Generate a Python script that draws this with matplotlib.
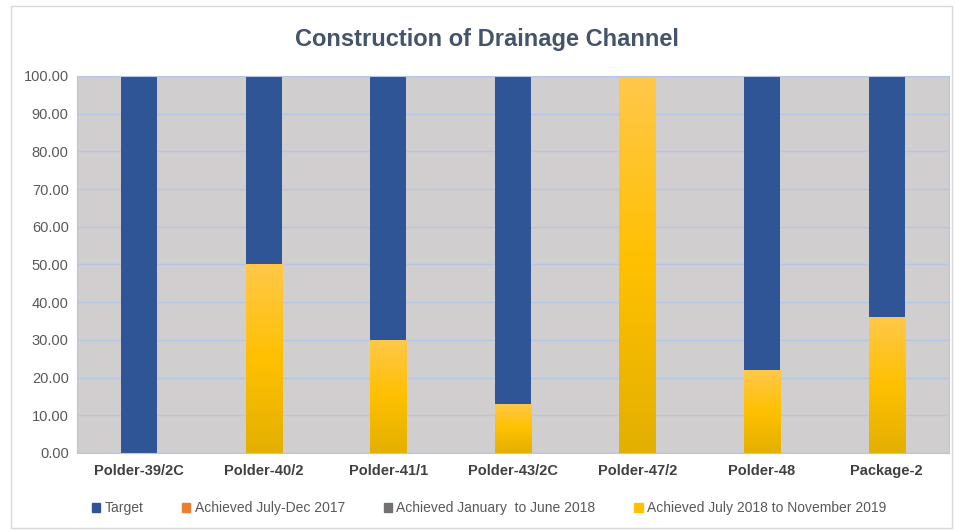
import numpy as np
import matplotlib.pyplot as plt
import matplotlib
from matplotlib.colors import LinearSegmentedColormap
from matplotlib.patches import Patch, Rectangle

matplotlib.rcParams['font.family'] = ['Liberation Sans Narrow', 'Liberation Sans', 'DejaVu Sans']

categories = ["Polder-39/2C", "Polder-40/2", "Polder-41/1", "Polder-43/2C",
              "Polder-47/2", "Polder-48", "Package-2"]
achieved_2017 = [0, 0, 0, 0, 0, 0, 0]
achieved_2018 = [0, 0, 0, 0, 0, 0, 0]
achieved_2019 = [0, 50, 30, 13, 100, 22, 36]
target = [100, 50, 70, 87, 0, 78, 64]
yticks = [0, 10, 20, 30, 40, 50, 60, 70, 80, 90, 100]

c_target = "#2F5597"
c_2017 = "#ED7D31"
c_2018 = "#767171"
c_2019 = "#FFC000"
yellow_grad = LinearSegmentedColormap.from_list(
    "yl", ["#E3B000", "#FFC000", "#FFC84A"])

fig = plt.figure(figsize=(9.55, 5.31), dpi=100)
fig.patches.append(Rectangle((0.011, 0.006), 0.986, 0.982, transform=fig.transFigure,
                             fill=False, edgecolor="#D9D9D9", linewidth=1))
ax = fig.add_axes([0.0806, 0.147, 0.913, 0.71])
ax.set_facecolor("#D0CECE")

x = np.arange(len(categories))
w = 0.29
b1 = np.array(achieved_2017)
b2 = b1 + np.array(achieved_2018)
b3 = b2 + np.array(achieved_2019)

ax.bar(x, achieved_2017, w, color=c_2017, zorder=2)
ax.bar(x, achieved_2018, w, bottom=b1, color=c_2018, zorder=2)
ybars = ax.bar(x, achieved_2019, w, bottom=b2, color="none", zorder=2)
ax.bar(x, target, w, bottom=b3, color=c_target, zorder=2)

# gradient fill for the yellow segments
grad = np.linspace(0, 1, 256).reshape(-1, 1)
for bar in ybars:
    h = bar.get_height()
    if h <= 0:
        continue
    x0 = bar.get_x()
    im = ax.imshow(grad, cmap=yellow_grad, origin="lower", aspect="auto",
                   extent=[x0, x0 + bar.get_width(), bar.get_y(), bar.get_y() + h],
                   zorder=2)
    im.set_clip_path(bar)

ax.set_xlim(-0.5, len(categories) - 0.5)
ax.set_ylim(0, 100)
ax.set_yticks(yticks)
ax.set_yticklabels([f"{v:.2f}" for v in yticks])
ax.set_xticks(x)
ax.set_xticklabels(categories, fontweight="bold")
ax.tick_params(axis="both", length=0, labelsize=10.5, colors="#404040")
ax.tick_params(axis="x", pad=8)
ax.tick_params(axis="y", pad=6, colors="#595959")
ax.yaxis.grid(True, color="#B4C7E7", linewidth=1, zorder=1)
ax.set_axisbelow(True)
for s in ax.spines.values():
    s.set_color("#B4C7E7")

fig.text(0.51, 0.925, "Construction of Drainage Channel", ha="center", va="center",
         fontsize=17, fontweight="bold", color="#44546A")

handles = [Patch(color=c_target, label="Target"),
           Patch(color=c_2017, label="Achieved July-Dec 2017"),
           Patch(color=c_2018, label="Achieved January  to June 2018"),
           Patch(color=c_2019, label="Achieved July 2018 to November 2019")]
fig.legend(handles=handles, loc="center", bbox_to_anchor=(0.512, 0.043), ncol=4,
           frameon=False, fontsize=10, handlelength=0.6, handleheight=0.6,
           handletextpad=0.3, columnspacing=2.8, labelcolor="#595959")

plt.savefig("out.png", dpi=100)
